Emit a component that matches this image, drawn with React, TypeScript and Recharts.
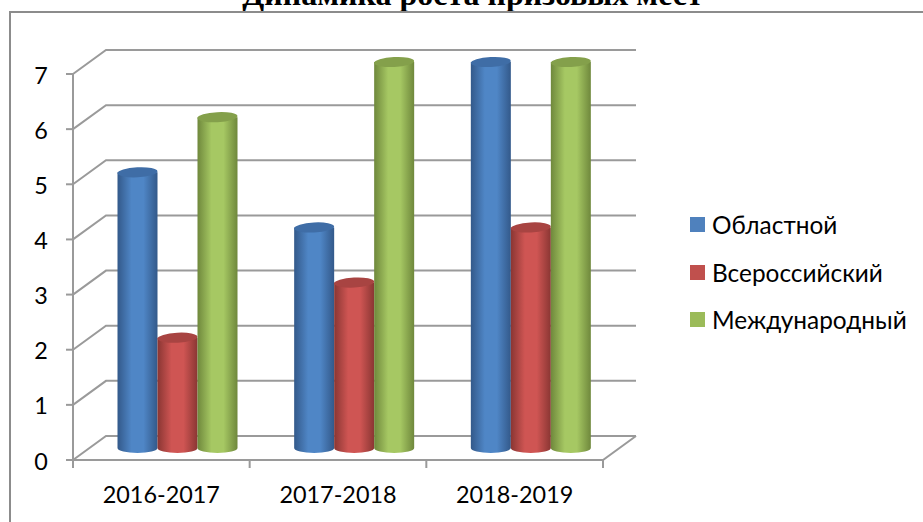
import { Bar, BarChart, CartesianGrid, Legend, XAxis, YAxis } from "recharts";

const categories = ["2016-2017", "2017-2018", "2018-2019"];
const oblastnoy = [5, 4, 7];
const vseross = [2, 3, 4];
const mezhdunar = [6, 7, 7];
const yTicks = [0, 1, 2, 3, 4, 5, 6, 7];

const data = categories.map((name, i) => ({
  name,
  oblastnoy: oblastnoy[i],
  vseross: vseross[i],
  mezhdunar: mezhdunar[i]
}));

const gridColor = "#9a9a9a";
const labelFont = "Lato, Carlito, sans-serif";

// depth of the fake 3d box
const depthX = 33;
const depthY = 24;
const barShiftX = 16.5;
const barShiftY = 12;

function Cylinder(props: any) {
  const { x, y, width, height, gradient, cap } = props;
  const left = x + barShiftX;
  const right = left + width;
  const top = y - barShiftY;
  const bottom = top + height;
  const rx = width / 2;
  const ry = 5;
  return (
    <g>
      <path
        d={`M${left},${top} L${left},${bottom} A${rx},${ry} 0 0 0 ${right},${bottom} L${right},${top} Z`}
        fill={`url(#${gradient})`}
      />
      <ellipse
        cx={left + rx}
        cy={top}
        rx={rx}
        ry={ry}
        fill={cap}
        transform={`rotate(-3 ${left + rx} ${top})`}
      />
    </g>
  );
}

function Shade({ id, edge, mid }: { id: string; edge: string; mid: string }) {
  return (
    <linearGradient id={id} x1="0" y1="0" x2="1" y2="0">
      <stop offset="0%" stopColor={edge} />
      <stop offset="35%" stopColor={mid} />
      <stop offset="65%" stopColor={mid} />
      <stop offset="100%" stopColor={edge} />
    </linearGradient>
  );
}

// each grid level: diagonal on the side wall, then the line on the back wall
function GridLevel(props: any) {
  const { x1, x2, y1 } = props;
  const isFloor = y1 > 450;
  return (
    <g key={y1}>
      <path
        d={`M${x1},${y1} L${x1 + depthX},${y1 - depthY} L${x2 + depthX},${y1 - depthY}`}
        fill="none"
        stroke={gridColor}
        strokeWidth={2}
      />
      {isFloor && (
        <path
          d={`M${x1},${y1} L${x2},${y1} L${x2 + depthX},${y1 - depthY}`}
          fill="none"
          stroke={gridColor}
          strokeWidth={2}
        />
      )}
    </g>
  );
}

function CategoryTick(props: any) {
  const { x, payload, index } = props;
  const step = 176.67;
  const isLast = index === categories.length - 1;
  const top = 460;
  return (
    <g>
      <line x1={x - step / 2} x2={x - step / 2} y1={top} y2={top + 8} stroke={gridColor} strokeWidth={2} />
      {isLast && <line x1={x + step / 2} x2={x + step / 2} y1={top} y2={top + 8} stroke={gridColor} strokeWidth={2} />}
      <text x={x} y={503} textAnchor="middle" fontSize={23.4} fontFamily={labelFont} fill="#000">
        {payload.value}
      </text>
    </g>
  );
}

function YTick(props: any) {
  const { y, payload } = props;
  return (
    <text x={41} y={y + 9.5} textAnchor="middle" fontSize={23.4} fontFamily={labelFont} fill="#000">
      {payload.value}
    </text>
  );
}

function LegendList() {
  const items = [
    { name: "Областной", color: "#4f81bd" },
    { name: "Всероссийский", color: "#c0504d" },
    { name: "Международный", color: "#9bbb59" }
  ];
  return (
    <div style={{ fontFamily: labelFont, fontSize: 24.4, color: "#000", whiteSpace: "nowrap" }}>
      {items.map((item) => (
        <div key={item.name} style={{ display: "flex", alignItems: "center", height: 47.5 }}>
          <span style={{ width: 15, height: 15, background: item.color, marginRight: 7 }} />
          {item.name}
        </div>
      ))}
    </div>
  );
}

export default function App() {
  return (
    <div style={{ position: "absolute", left: 0, top: 0, width: 923, height: 522, background: "#fff", overflow: "hidden" }}>
      <svg width={923} height={522} style={{ position: "absolute", left: 0, top: 0 }}>
        <text x={472.5} y={5} textAnchor="middle" fontSize={32} fontWeight="bold" fontFamily="'Liberation Serif', serif" fill="#000">
          Динамика роста призовых мест
        </text>
        <path d="M10,522 L10,12 L923,12" fill="none" stroke="#8c8c8c" strokeWidth={2} />
      </svg>
      <BarChart
        width={923}
        height={522}
        data={data}
        margin={{ top: 74, right: 87, bottom: 0, left: 23 }}
        barGap={0}
        barSize={40}
        style={{ position: "absolute", left: 0, top: 0 }}
      >
        <defs>
          <Shade id="cylBlue" edge="#33598a" mid="#4f86c6" />
          <Shade id="cylRed" edge="#8a3633" mid="#cf5553" />
          <Shade id="cylGreen" edge="#6f883c" mid="#a6c863" />
        </defs>
        <CartesianGrid vertical={false} horizontal={(p: any) => <GridLevel {...p} />} />
        <XAxis
          dataKey="name"
          axisLine={false}
          tickLine={false}
          tick={(p: any) => <CategoryTick {...p} />}
          interval={0}
          height={62}
        />
        <YAxis
          domain={[0, 7]}
          ticks={yTicks}
          width={50}
          axisLine={{ stroke: gridColor, strokeWidth: 2 }}
          tickLine={{ stroke: gridColor, strokeWidth: 2 }}
          tickSize={7}
          tick={(p: any) => <YTick {...p} />}
        />
        <Bar dataKey="oblastnoy" name="Областной" isAnimationActive={false} fill="#4f81bd" shape={(p: any) => <Cylinder {...p} gradient="cylBlue" cap="#3f6da6" />} />
        <Bar dataKey="vseross" name="Всероссийский" isAnimationActive={false} fill="#c0504d" shape={(p: any) => <Cylinder {...p} gradient="cylRed" cap="#a84442" />} />
        <Bar dataKey="mezhdunar" name="Международный" isAnimationActive={false} fill="#9bbb59" shape={(p: any) => <Cylinder {...p} gradient="cylGreen" cap="#84a04b" />} />
        <Legend
          layout="vertical"
          verticalAlign="top"
          align="right"
          content={() => <LegendList />}
          wrapperStyle={{ left: 690, top: 201, width: 233 }}
        />
      </BarChart>
    </div>
  );
}
